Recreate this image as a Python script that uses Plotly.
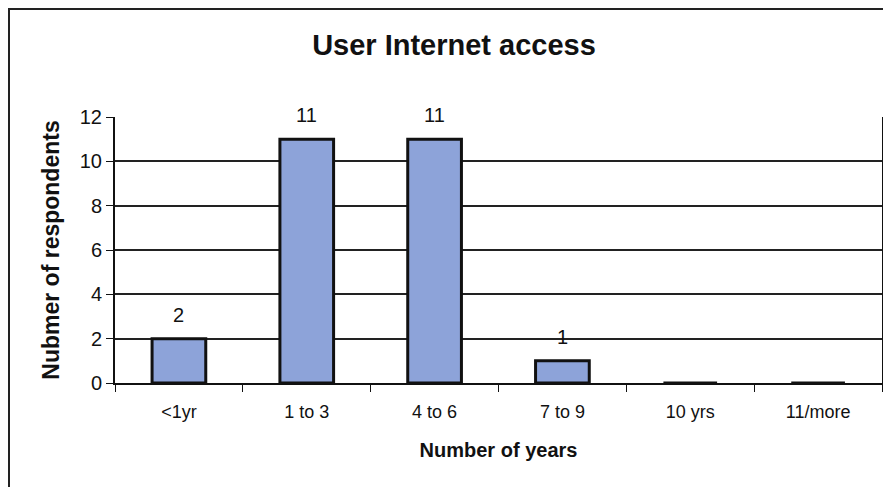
import plotly.graph_objects as go

categories = ["<1yr", "1 to 3", "4 to 6", "7 to 9", "10 yrs", "11/more"]
respondents = [2, 11, 11, 1, 0, 0]
y_ticks = [0, 2, 4, 6, 8, 10, 12]

regular = "Liberation Sans, Arial, sans-serif"

L, R, T, B = 107, 17, 109, 112
W, H = 891, 487
pw, ph = W - L - R, H - T - B

fig = go.Figure()
fig.add_trace(go.Bar(
    x=categories, y=respondents,
    marker=dict(color="#8DA3D9", line=dict(color="#111111", width=3)),
    width=0.42,
))

for c, v in zip(categories, respondents):
    if v > 0:
        fig.add_annotation(x=c, y=v, text=str(v), showarrow=False,
                           yshift=24, font=dict(family=regular, size=20, color="#111"))

fig.update_layout(
    width=W, height=H,
    margin=dict(l=L, r=R, t=T, b=B),
    paper_bgcolor="white", plot_bgcolor="white",
    showlegend=False,
    title=dict(text="<b>User Internet access</b>", x=(454 - 8) / W, xanchor="center",
               y=1 - 37 / H, yanchor="middle",
               font=dict(family=regular, size=29, color="#111")),
    xaxis=dict(
        type="category", tickson="boundaries", ticks="outside", ticklen=7,
        tickcolor="#111", showline=True, linecolor="#111", linewidth=2,
        showgrid=False, ticklabelstandoff=11,
        tickfont=dict(family=regular, size=18, color="#111"),
        title=dict(text="<b>Number of years</b>", standoff=22,
                   font=dict(family=regular, size=20, color="#111")),
    ),
    yaxis=dict(
        range=[0, 12], tickvals=y_ticks, ticks="outside", ticklen=7,
        tickcolor="#111", showline=True, linecolor="#111", linewidth=2,
        mirror=True, showgrid=True, gridcolor="#222", gridwidth=1.5,
        zeroline=False,
        tickfont=dict(family=regular, size=20, color="#111"),
        title=dict(text="<b>Nubmer of respondents</b>", standoff=14,
                   font=dict(family=regular, size=23, color="#111")),
    ),
    shapes=[dict(type="rect", xref="paper", yref="paper",
                 x0=-(L - 1) / pw, x1=(881 - L) / pw,
                 y0=-(B + 20) / ph, y1=(H - B - 1) / ph,
                 line=dict(color="#222", width=2), fillcolor="rgba(0,0,0,0)",
                 layer="below")],
)

fig.write_html("out.html")
